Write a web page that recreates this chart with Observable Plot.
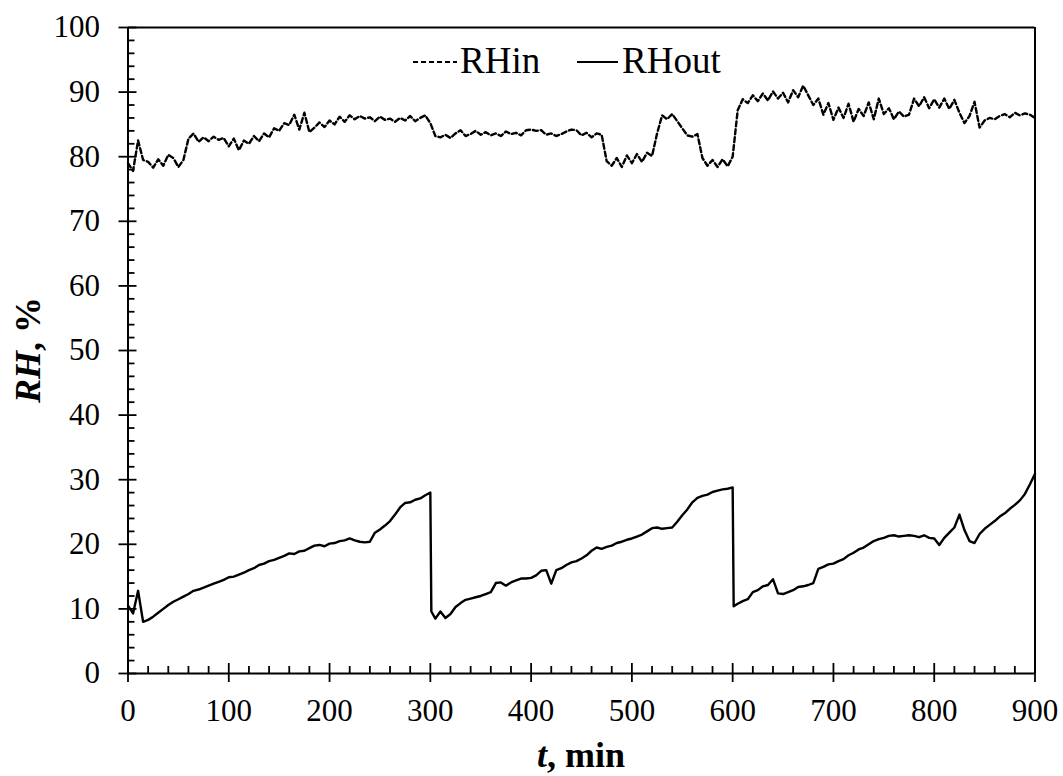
<!DOCTYPE html>
<html>
<head>
<meta charset="utf-8">
<script src="https://cdn.jsdelivr.net/npm/d3@7"></script>
<script src="https://cdn.jsdelivr.net/npm/@observablehq/plot@0.6"></script>
<style>
  html, body { margin: 0; padding: 0; background: #fff; }
  #chart { width: 1063px; height: 776px; }
</style>
</head>
<body>
<div id="chart"></div>
<script>
// Sampling times (min), one reading every 5 minutes
const minutes = d3.range(0, 901, 5);

// Inlet relative humidity, % (t = 0, 5, ..., 900)
const rhIn = [
  79.0, 77.8, 82.5, 79.5, 79.2, 78.3, 79.6, 78.6, 80.3, 79.8,
  78.4, 79.5, 82.8, 83.6, 82.3, 83.0, 82.4, 83.1, 82.6, 82.9,
  81.6, 82.8, 81.0, 82.5, 82.0, 83.2, 82.4, 83.6, 83.0, 84.4,
  84.0, 85.2, 84.9, 86.5, 84.2, 86.8, 83.8, 84.5, 85.3, 84.6,
  85.6, 85.0, 86.2, 85.4, 86.4, 85.8, 86.3, 85.9, 86.1, 85.5,
  86.2, 85.7, 85.9, 85.4, 86.0, 85.6, 86.3, 85.5, 86.0, 86.4,
  85.2, 83.2, 83.0, 83.4, 82.9, 83.6, 84.1, 83.2, 83.5, 84.0,
  83.4, 83.8, 83.3, 83.6, 83.2, 83.9, 83.5, 83.7, 83.3, 84.1,
  84.2, 84.0, 84.1, 83.4, 83.6, 83.2, 83.5, 83.9, 84.2, 84.1,
  83.3, 83.7, 83.0, 83.6, 83.4, 79.3, 78.6, 79.8, 78.4, 80.2,
  79.0, 80.4, 79.2, 80.6, 80.1, 83.6, 86.4, 85.8, 86.6, 85.5,
  84.4, 83.3, 83.1, 83.5, 79.8, 78.6, 79.5, 78.4, 79.6, 78.5,
  80.0, 87.2, 88.9, 88.3, 89.5, 88.6, 89.8, 88.7, 90.1, 89.0,
  89.9, 88.4, 90.3, 89.2, 91.0, 89.5, 88.0, 89.0, 86.5, 88.3,
  85.7, 87.6, 86.0, 88.2, 85.4, 87.4, 86.3, 88.4, 85.8, 89.0,
  86.6, 87.5, 85.8, 87.0, 86.2, 86.5, 89.0, 87.8, 89.2, 87.5,
  88.9, 87.6, 89.0, 87.4, 88.8, 86.8, 85.2, 86.3, 88.5, 84.5,
  85.6, 86.0, 85.8, 86.3, 86.6, 86.1, 86.8, 86.4, 86.7, 86.5,
  86.0
];

// Outlet relative humidity, % (t = 0, 5, ..., 900)
const rhOut = [
  10.5, 9.3, 12.8, 8.0, 8.3, 8.8, 9.4, 10.0, 10.6, 11.1,
  11.5, 11.9, 12.3, 12.8, 13.0, 13.3, 13.6, 13.9, 14.2, 14.5,
  14.9, 15.0, 15.3, 15.6, 16.0, 16.3, 16.8, 17.0, 17.4, 17.6,
  17.9, 18.2, 18.6, 18.5, 18.9, 19.0, 19.4, 19.8, 19.9, 19.7,
  20.1, 20.2, 20.5, 20.6, 20.9, 20.6, 20.4, 20.3, 20.4, 21.8,
  22.3, 22.9, 23.6, 24.6, 25.7, 26.4, 26.5, 26.9, 27.1, 27.6,
  28.0, 8.5, 9.6, 8.6, 9.2, 10.3, 10.9, 11.4, 11.6, 11.8,
  12.0, 12.3, 12.6, 14.0, 14.1, 13.6, 14.1, 14.4, 14.7, 14.7,
  14.8, 15.2, 15.9, 16.0, 13.9, 16.0, 16.3, 16.8, 17.2, 17.4,
  17.8, 18.3, 19.0, 19.5, 19.3, 19.6, 19.8, 20.2, 20.4, 20.7,
  20.9, 21.2, 21.5, 22.0, 22.5, 22.6, 22.4, 22.5, 22.6, 23.5,
  24.5, 25.4, 26.5, 27.2, 27.5, 27.7, 28.1, 28.3, 28.5, 28.6,
  28.8, 10.8, 11.2, 11.5, 12.6, 12.9, 13.5, 13.7, 14.6, 12.4,
  12.3, 12.6, 12.9, 13.4, 13.5, 13.7, 14.0, 16.2, 16.5, 16.9,
  17.0, 17.4, 17.7, 18.3, 18.7, 19.2, 19.5, 20.0, 20.5, 20.8,
  21.0, 21.3, 21.4, 21.2, 21.3, 21.4, 21.3, 21.1, 21.4, 21.0,
  20.9, 19.9, 21.0, 21.8, 22.6, 24.6, 22.2, 20.5, 20.2, 21.6,
  22.4, 23.0, 23.6, 24.3, 24.8, 25.5, 26.1, 26.8, 27.8, 29.3,
  30.9
];

// Extra outlet readings right after the two regeneration switches
const rhOutSwitch = [
  { t: 301, v: 9.6 },
  { t: 601, v: 10.4 }
];

// Axis ticks
const xMajor = [0, 100, 200, 300, 400, 500, 600, 700, 800, 900];
const xMinor = d3.range(20, 900, 20).filter(d => d % 100 !== 0);
const yMajor = [0, 10, 20, 30, 40, 50, 60, 70, 80, 90, 100];
const yMinor = d3.range(2, 100, 2).filter(d => d % 10 !== 0);

const inRows = minutes.map((t, i) => ({ t, v: rhIn[i] }));
const outRows = minutes.map((t, i) => ({ t, v: rhOut[i] }))
  .concat(rhOutSwitch)
  .sort((a, b) => a.t - b.t);

const serif = "'Liberation Serif', 'Times New Roman', serif";
const ink = "#000";

const plot = Plot.plot({
  width: 1063,
  height: 776,
  marginLeft: 127.5,
  marginRight: 28.5,
  marginTop: 27,
  marginBottom: 103,
  style: { fontFamily: serif, fontSize: "30px", color: ink, background: "#fff" },
  x: { domain: [0, 900] },
  y: { domain: [0, 100] },
  marks: [
    // series
    Plot.line(inRows, { x: "t", y: "v", stroke: ink, strokeWidth: 2.4, strokeDasharray: "5,3" }),
    Plot.line(outRows, { x: "t", y: "v", stroke: ink, strokeWidth: 2.4 }),
    // axis lines and frame
    Plot.ruleX([0, 900], { stroke: ink, strokeWidth: 2 }),
    Plot.ruleY([0, 100], { stroke: ink, strokeWidth: 2 }),
    // major ticks crossing the axis lines, with labels outside
    Plot.axisX({ ticks: xMajor, tickSize: 9, tickPadding: 16, fontSize: 31, label: null, strokeWidth: 1.8, tickFormat: d => String(d) }),
    Plot.axisY({ ticks: yMajor, tickSize: 9, tickPadding: 19, fontSize: 31, label: null, strokeWidth: 1.8, tickFormat: d => String(d) }),
    Plot.axisX({ ticks: xMajor, tickSize: 10, dy: -10, text: null, label: null, strokeWidth: 1.8 }),
    Plot.axisY({ ticks: yMajor, tickSize: 9, dx: 9, text: null, label: null, strokeWidth: 1.8 }),
    // minor ticks on the inside
    Plot.axisX({ ticks: xMinor, tickSize: 7, dy: -7, text: null, label: null, strokeWidth: 1.8 }),
    Plot.axisY({ ticks: yMinor, tickSize: 7, dx: 7, text: null, label: null, strokeWidth: 1.8 })
  ]
});

// Axis titles and legend
const svg = d3.select(plot);
const g = svg.append("g").attr("fill", ink).attr("text-anchor", "start");

const xTitle = g.append("text")
  .attr("x", 581).attr("y", 767)
  .attr("text-anchor", "middle")
  .style("font-family", serif).style("font-size", "36px").style("font-weight", "bold");
xTitle.append("tspan").style("font-style", "italic").text("t");
xTitle.append("tspan").text(", min");

const yTitle = g.append("text")
  .attr("transform", "translate(40,350) rotate(-90)")
  .attr("text-anchor", "middle")
  .style("font-family", serif).style("font-size", "36px").style("font-weight", "bold");
yTitle.append("tspan").style("font-style", "italic").text("RH");
yTitle.append("tspan").text(", %");

const legend = g.append("g");
legend.append("line")
  .attr("x1", 413).attr("x2", 457).attr("y1", 62).attr("y2", 62)
  .attr("stroke", ink).attr("stroke-width", 2).attr("stroke-dasharray", "5,3");
legend.append("text").attr("x", 460).attr("y", 73).attr("text-anchor", "start")
  .style("font-family", serif).style("font-size", "37px").text("RHin");
legend.append("line")
  .attr("x1", 577).attr("x2", 618).attr("y1", 62).attr("y2", 62)
  .attr("stroke", ink).attr("stroke-width", 2);
legend.append("text").attr("x", 622).attr("y", 73).attr("text-anchor", "start")
  .style("font-family", serif).style("font-size", "37px").text("RHout");

document.getElementById("chart").appendChild(plot);
</script>
</body>
</html>
